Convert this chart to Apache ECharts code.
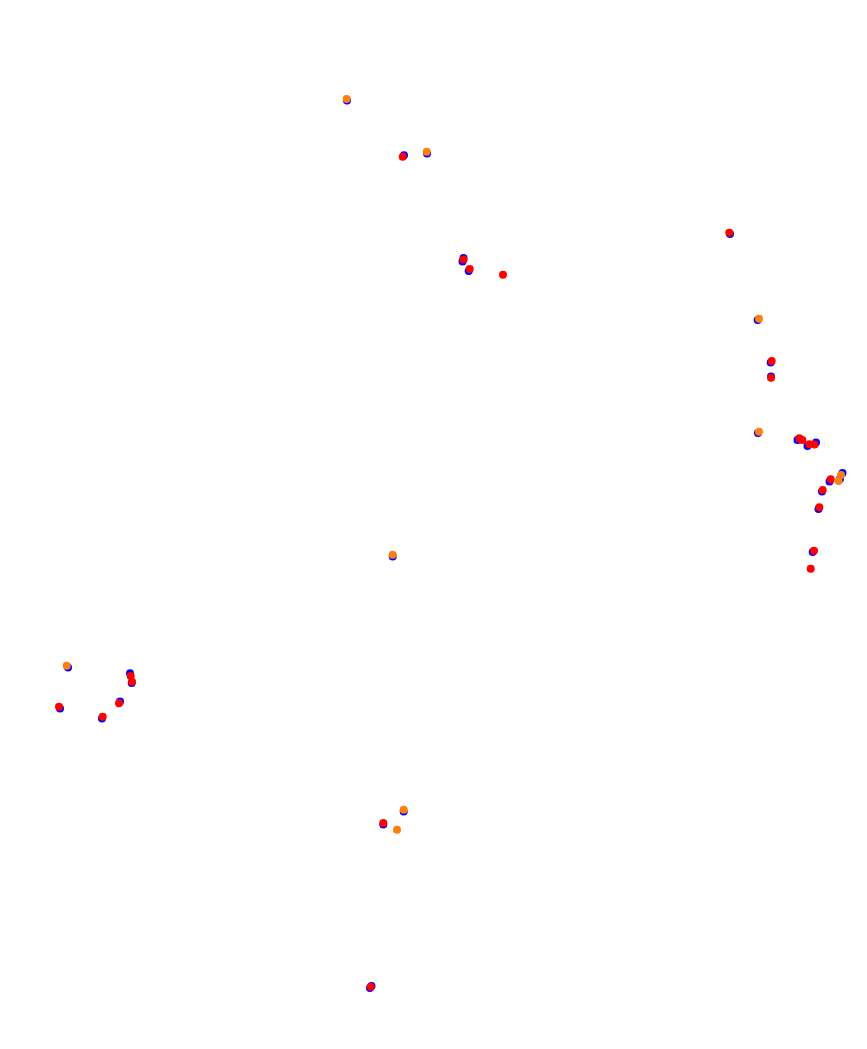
<!DOCTYPE html>
<html>
<head>
<meta charset="utf-8">
<script src="https://cdn.jsdelivr.net/npm/echarts@6/dist/echarts.min.js"></script>
<style>
  html, body { margin: 0; padding: 0; background: #fff; }
  #main { width: 867px; height: 1049px; }
</style>
</head>
<body>
<div id="main"></div>
<script>
// points (x to the right, y downwards)
const bluePoints = [
  [347, 100.5], [404, 155.3], [427, 153.5],
  [463.5, 258], [462.5, 261.5], [468.7, 271],
  [730, 234], [757.7, 320], [770.7, 362.5], [771, 376.5], [758, 433],
  [797.5, 440], [807.5, 446], [816, 442.5],
  [842.5, 473], [840, 479], [829.5, 481.5], [822, 491.5], [818.5, 509], [812.7, 552],
  [392.7, 556.5],
  [68, 667.5], [130, 673.3], [131.7, 683], [60, 708.5], [120, 701.5], [102, 718.5],
  [403.7, 811.5], [383.3, 824.5],
  [371.5, 986], [370, 988]
];
const redPoints = [
  [402.7, 156.7],
  [463.5, 259.5], [469.7, 269], [503, 274.7],
  [729.3, 232.7], [771.7, 361], [771, 377.7],
  [799.3, 438.3], [802.3, 440], [809.3, 444.3], [814.5, 444.5],
  [830.7, 479.3], [822.7, 490], [819.3, 507.3], [814, 550.7], [810.7, 568.7],
  [130.7, 676], [132, 681.7], [59, 706.7], [119, 703.3], [102.7, 716.7],
  [383.3, 823],
  [370.7, 986.7]
];
const orangePoints = [
  [346.7, 99], [426.7, 151.7],
  [759, 318.7], [759, 431.7],
  [841, 475], [838.5, 481],
  [392.7, 554.7],
  [66.7, 665.7],
  [403.7, 809.7], [397, 829.7]
];

var chartDom = document.getElementById('main');
var myChart = echarts.init(chartDom);
var option = {
  animation: false,
  grid: { left: 0, right: 0, top: 0, bottom: 0 },
  xAxis: { type: 'value', min: 0, max: 867, show: false },
  yAxis: { type: 'value', min: 0, max: 1049, inverse: true, show: false },
  series: [
    { name: 'blue', type: 'scatter', symbolSize: 8, data: bluePoints,
      itemStyle: { color: '#0000ff', opacity: 1 } },
    { name: 'red', type: 'scatter', symbolSize: 8, data: redPoints,
      itemStyle: { color: '#ff0000', opacity: 1 } },
    { name: 'orange', type: 'scatter', symbolSize: 8, data: orangePoints,
      itemStyle: { color: '#ff7f0e', opacity: 1 } }
  ]
};
myChart.setOption(option);
</script>
</body>
</html>
